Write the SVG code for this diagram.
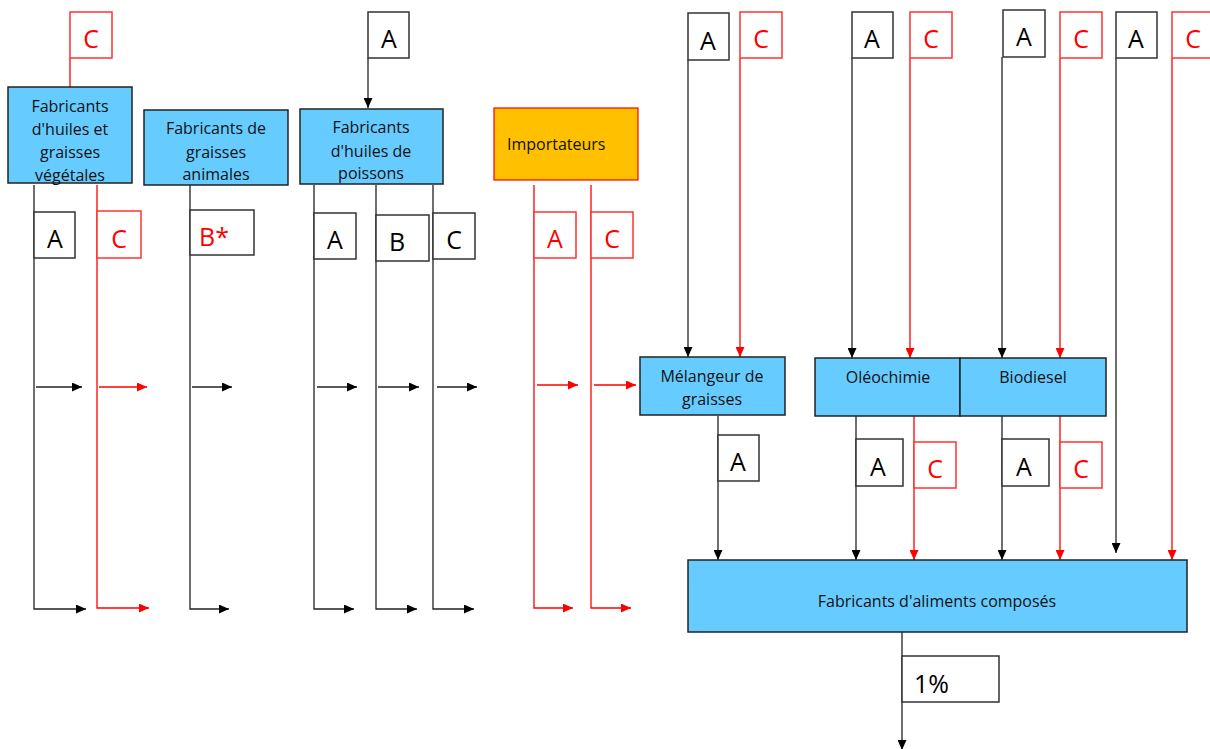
<svg xmlns="http://www.w3.org/2000/svg" width="1210" height="749" viewBox="0 0 1210 749">
<style>
.node{fill:#66CCFF;stroke:#222;stroke-width:1.5}
.imp{fill:#FFC000;stroke:#FF0000;stroke-width:1.2}
.nt{font-family:"Open Sans","Noto Sans",sans-serif;font-size:16px;fill:#111;text-anchor:middle}
.lb{fill:#fff;stroke:#333;stroke-width:1.5}
.lbr{fill:#fff;stroke:#FF3333;stroke-width:1.5}
.lt{font-family:"Open Sans","Noto Sans",sans-serif;font-size:25px;fill:#000;text-anchor:middle}
.ltr{font-family:"Open Sans","Noto Sans",sans-serif;font-size:25px;fill:#FF0000;text-anchor:middle}
.k{fill:none;stroke:#222;stroke-width:1.3}
.r{fill:none;stroke:#FF0000;stroke-width:1.3}
</style>
<defs>
<marker id="ak" markerUnits="userSpaceOnUse" markerWidth="10" markerHeight="9" refX="10" refY="4.5" orient="auto"><path d="M0,0 L10,4.5 L0,9 z" fill="#000"/></marker>
<marker id="ar" markerUnits="userSpaceOnUse" markerWidth="10" markerHeight="9" refX="10" refY="4.5" orient="auto"><path d="M0,0 L10,4.5 L0,9 z" fill="#FF0000"/></marker>
</defs>
<rect width="1210" height="749" fill="#fff"/>

<g id="connectors">
<path class="r" d="M70,58 V87"/>
<path class="k" d="M368,58 V108" marker-end="url(#ak)"/>
<path class="k" d="M34,185 V609 H86" marker-end="url(#ak)"/>
<path class="k" d="M36,387 H82" marker-end="url(#ak)"/>
<path class="r" d="M97,185 V608 H149" marker-end="url(#ar)"/>
<path class="r" d="M99,387 H147" marker-end="url(#ar)"/>
<path class="k" d="M190,185 V609 H229" marker-end="url(#ak)"/>
<path class="k" d="M192,387 H232" marker-end="url(#ak)"/>
<path class="k" d="M314,185 V609 H354" marker-end="url(#ak)"/>
<path class="k" d="M317,387 H357" marker-end="url(#ak)"/>
<path class="k" d="M376,185 V609 H417" marker-end="url(#ak)"/>
<path class="k" d="M378,387 H419" marker-end="url(#ak)"/>
<path class="k" d="M433,185 V609 H474" marker-end="url(#ak)"/>
<path class="k" d="M437,387 H477" marker-end="url(#ak)"/>
<path class="r" d="M534,185 V608 H573" marker-end="url(#ar)"/>
<path class="r" d="M537,385 H578" marker-end="url(#ar)"/>
<path class="r" d="M591,185 V608 H631" marker-end="url(#ar)"/>
<path class="r" d="M594,385 H636" marker-end="url(#ar)"/>
<path class="k" d="M688,60 V357" marker-end="url(#ak)"/>
<path class="r" d="M740,58 V357" marker-end="url(#ar)"/>
<path class="k" d="M852,58 V358" marker-end="url(#ak)"/>
<path class="r" d="M910,58 V358" marker-end="url(#ar)"/>
<path class="k" d="M1002,57 V358" marker-end="url(#ak)"/>
<path class="r" d="M1060,58 V358" marker-end="url(#ar)"/>
<path class="k" d="M1116,58 V553" marker-end="url(#ak)"/>
<path class="r" d="M1172,58 V560" marker-end="url(#ar)"/>
<path class="k" d="M718,416 V560" marker-end="url(#ak)"/>
<path class="k" d="M856,416 V560" marker-end="url(#ak)"/>
<path class="r" d="M914,416 V560" marker-end="url(#ar)"/>
<path class="k" d="M1002,416 V560" marker-end="url(#ak)"/>
<path class="r" d="M1060,416 V560" marker-end="url(#ar)"/>
<path class="k" d="M902,632 V750" marker-end="url(#ak)"/>
</g>

<g id="labels">
<rect class="lbr" x="70" y="12" width="42" height="46"/><text class="ltr" x="91" y="48">C</text>
<rect class="lb" x="368" y="12" width="41" height="46"/><text class="lt" x="389" y="48">A</text>
<rect class="lb" x="34" y="212" width="41" height="46"/><text class="lt" x="55" y="248">A</text>
<rect class="lbr" x="97" y="211" width="44" height="47"/><text class="ltr" x="119" y="248">C</text>
<rect class="lb" x="190" y="210" width="64" height="45"/><text class="ltr" x="214" y="246">B*</text>
<rect class="lb" x="314" y="213" width="42" height="46"/><text class="lt" x="335" y="249">A</text>
<rect class="lb" x="376" y="215" width="53" height="46"/><text class="lt" x="397" y="251">B</text>
<rect class="lb" x="433" y="213" width="42" height="46"/><text class="lt" x="454" y="249">C</text>
<rect class="lbr" x="534" y="212" width="42" height="46"/><text class="ltr" x="555" y="248">A</text>
<rect class="lbr" x="591" y="212" width="42" height="46"/><text class="ltr" x="612" y="248">C</text>
<rect class="lb" x="688" y="13" width="41" height="47"/><text class="lt" x="708" y="50">A</text>
<rect class="lbr" x="740" y="12" width="42" height="46"/><text class="ltr" x="761" y="48">C</text>
<rect class="lb" x="852" y="12" width="41" height="46"/><text class="lt" x="872" y="48">A</text>
<rect class="lbr" x="910" y="12" width="42" height="46"/><text class="ltr" x="931" y="48">C</text>
<rect class="lb" x="1003" y="10" width="42" height="47"/><text class="lt" x="1024" y="46">A</text>
<rect class="lbr" x="1060" y="12" width="42" height="46"/><text class="ltr" x="1081" y="48">C</text>
<rect class="lb" x="1116" y="12" width="41" height="46"/><text class="lt" x="1136" y="48">A</text>
<rect class="lbr" x="1172" y="12" width="42" height="46"/><text class="ltr" x="1193" y="48">C</text>
<rect class="lb" x="718" y="435" width="41" height="46"/><text class="lt" x="738" y="471">A</text>
<rect class="lb" x="856" y="439" width="47" height="47"/><text class="lt" x="878" y="476">A</text>
<rect class="lbr" x="914" y="442" width="42" height="46"/><text class="ltr" x="935" y="478">C</text>
<rect class="lb" x="1002" y="439" width="47" height="47"/><text class="lt" x="1024" y="476">A</text>
<rect class="lbr" x="1060" y="442" width="42" height="46"/><text class="ltr" x="1081" y="478">C</text>
<rect class="lb" x="902" y="656" width="97" height="46"/><text class="lt" x="914" y="693" style="text-anchor:start">1%</text>
</g>

<g id="n-vegetales">
<rect class="node" x="8" y="87" width="124" height="96"/>
<text class="nt" x="70" y="112">Fabricants</text>
<text class="nt" x="70" y="135">d'huiles et</text>
<text class="nt" x="70" y="158">graisses</text>
<text class="nt" x="70" y="181">végétales</text>
</g>
<g id="n-animales">
<rect class="node" x="144" y="110" width="144" height="75"/>
<text class="nt" x="216" y="134">Fabricants de</text>
<text class="nt" x="216" y="158">graisses</text>
<text class="nt" x="216" y="180">animales</text>
</g>
<g id="n-poissons">
<rect class="node" x="300" y="109" width="143" height="75"/>
<text class="nt" x="371" y="133">Fabricants</text>
<text class="nt" x="371" y="157">d'huiles de</text>
<text class="nt" x="371" y="179">poissons</text>
</g>
<g id="n-importateurs">
<rect class="imp" x="494" y="108" width="144" height="72"/>
<text class="nt" x="507" y="150" style="text-anchor:start">Importateurs</text>
</g>
<g id="n-melangeur">
<rect class="node" x="640" y="357" width="145" height="58"/>
<text class="nt" x="712" y="382">Mélangeur de</text>
<text class="nt" x="712" y="405">graisses</text>
</g>
<g id="n-oleochimie">
<rect class="node" x="815" y="358" width="145" height="58"/>
<text class="nt" x="888" y="383">Oléochimie</text>
</g>
<g id="n-biodiesel">
<rect class="node" x="960" y="358" width="146" height="58"/>
<text class="nt" x="1033" y="383">Biodiesel</text>
</g>
<g id="n-aliments">
<rect class="node" x="688" y="560" width="499" height="72"/>
<text class="nt" x="937" y="607">Fabricants d'aliments composés</text>
</g>
</svg>
